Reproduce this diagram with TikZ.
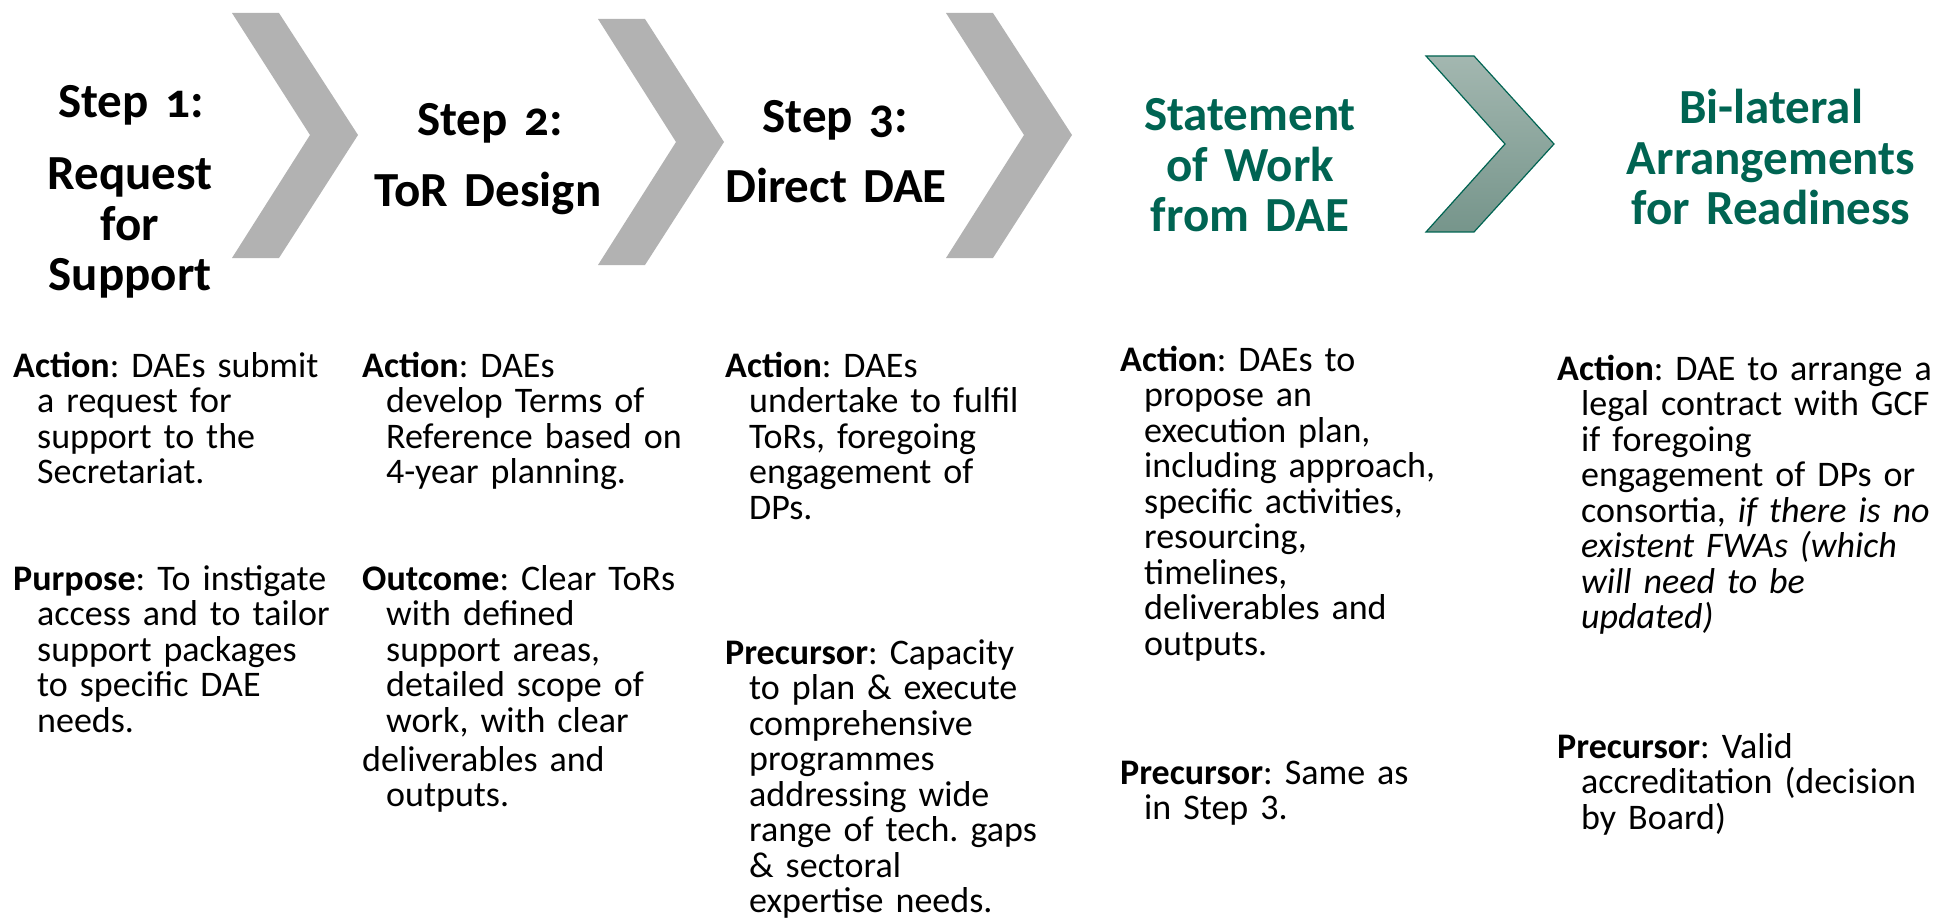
\documentclass[tikz,border=0pt]{standalone}
\usepackage{fontspec}
\setmainfont{Carlito}
\newfontfamily\headfont[Numbers=OldStyle]{Carlito}
\definecolor{chevgray}{RGB}{178,178,178}
\definecolor{gcfgreen}{RGB}{0,100,82}
\definecolor{chevtop}{RGB}{163,183,176}
\definecolor{chevbot}{RGB}{118,149,139}
\newcommand\hin{\hspace*{24pt}}
\frenchspacing
\hbadness=10000 \hfuzz=100pt
\tikzset{
  body/.style={anchor=base west, inner sep=0pt, align=left,
    font={\fontsize{36}{35.5}\selectfont\lineskiplimit=-60pt\frenchspacing}},
  head/.style={anchor=base, inner sep=0pt, text width=400pt, align=center,
    font={\headfont\bfseries\fontsize{49}{50.5}\selectfont\lineskiplimit=-60pt}},
  greenhead/.style={head, text=gcfgreen},
  chev/.style={fill=chevgray, draw=none},
  greenchev/.style={top color=chevtop, bottom color=chevbot, draw=gcfgreen, line width=1.2pt, line join=miter},
}
\begin{document}
\begin{tikzpicture}[x=1pt,y=-1pt]
\useasboundingbox (0,0) rectangle (1933,920);

% chevrons
\fill[chev] (232,13) -- (279,13) -- (358,135) -- (279,258) -- (232,258) -- (310,135) -- cycle;
\fill[chev] (598,19) -- (645,19) -- (724,142) -- (645,265) -- (598,265) -- (676,142) -- cycle;
\fill[chev] (946,13) -- (993,13) -- (1072,135) -- (993,258) -- (946,258) -- (1024,135) -- cycle;
\shade[greenchev] (1426,56) -- (1474,56) -- (1554,144) -- (1474,232) -- (1426,232) -- (1505,144) -- cycle;

% headings
\node[head] (h1a) at (131,118) {Step 1:};
\node[head] (h1b) at (130,190) {Request\\for\\Support};
\node[head] (h2a) at (490,136) {Step 2:};
\node[head] (h2b) at (488,207) {ToR Design};
\node[head] (h3a) at (835,133) {Step 3:};
\node[head] (h3b) at (836,203) {Direct DAE};
\node[greenhead] (h4) at (1250,131) {Statement\\of Work\\from DAE};
\node[greenhead] (h5) at (1771,124) {Bi-lateral\\Arrangements\\for Readiness};

% column 1
\node[body, text width=340pt] (c1a) at (13,377) {\textbf{Action}: DAEs submit\\ \hin a request for\\ \hin support to the\\ \hin Secretariat.};
\node[body, text width=340pt] (c1b) at (13,590) {\textbf{Purpose}: To instigate\\ \hin access and to tailor\\ \hin support packages\\ \hin to specific DAE\\ \hin needs.};

% column 2
\node[body, text width=355pt] (c2a) at (362,377) {\textbf{Action}: DAEs\\ \hin develop Terms of\\ \hin Reference based on\\ \hin 4-year planning.};
\node[body, text width=355pt] (c2b) at (362,590) {\textbf{Outcome}: Clear ToRs\\ \hin with defined\\ \hin support areas,\\ \hin detailed scope of\\ \hin work, with clear};
\node[body, text width=355pt] (c2c) at (362,771) {deliverables and\\ \hin outputs.};

% column 3
\node[body, text width=380pt] (c3a) at (725,377) {\textbf{Action}: DAEs\\ \hin undertake to fulfil\\ \hin ToRs, foregoing\\ \hin engagement of\\ \hin DPs.};
\node[body, text width=380pt] (c3b) at (725,664) {\textbf{Precursor}: Capacity\\ \hin to plan \& execute\\ \hin comprehensive\\ \hin programmes\\ \hin addressing wide\\ \hin range of tech. gaps\\ \hin \& sectoral\\ \hin expertise needs.};

% column 4
\node[body, text width=420pt] (c4a) at (1120,371) {\textbf{Action}: DAEs to\\ \hin propose an\\ \hin execution plan,\\ \hin including approach,\\ \hin specific activities,\\ \hin resourcing,\\ \hin timelines,\\ \hin deliverables and\\ \hin outputs.};
\node[body, text width=420pt] (c4b) at (1120,784) {\textbf{Precursor}: Same as\\ \hin in Step 3.};

% column 5
\node[body, text width=374pt] (c5a) at (1557,380) {\mbox{\textbf{Action}: DAE to arrange a}\\ \hin\mbox{legal contract with GCF}\\ \hin\mbox{if foregoing}\\ \hin\mbox{engagement of DPs or}\\ \hin\mbox{consortia, \textit{if there is no}}\\ \hin\mbox{\textit{existent FWAs (which}}\\ \hin\mbox{\textit{will need to be}}\\ \hin\mbox{\textit{updated)}}};
\node[body, text width=374pt] (c5b) at (1557,758) {\mbox{\textbf{Precursor}: Valid}\\ \hin\mbox{accreditation (decision}\\ \hin\mbox{by Board)}};
\end{tikzpicture}
\end{document}
